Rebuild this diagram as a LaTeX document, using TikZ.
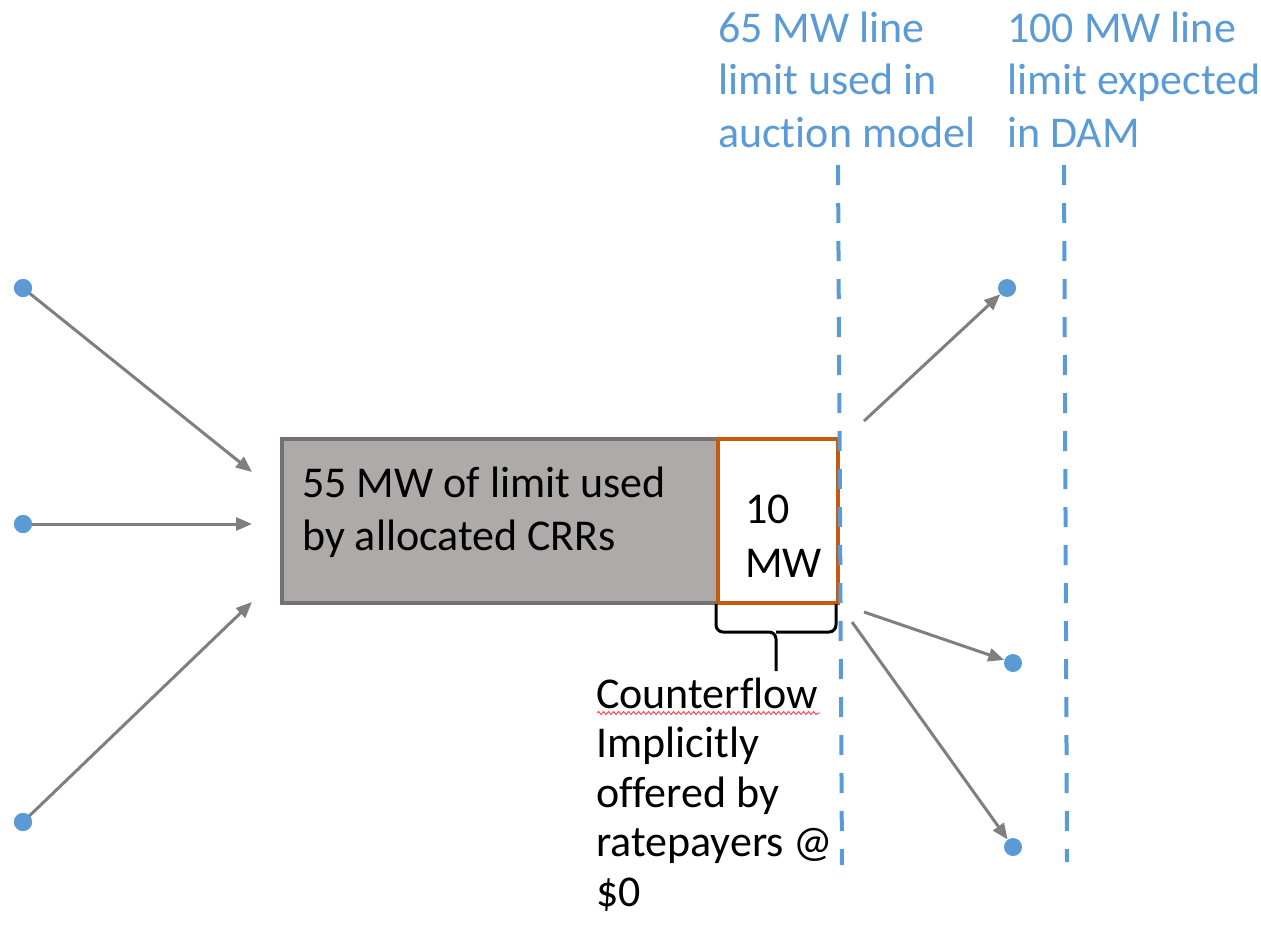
\documentclass[tikz,border=0pt]{standalone}
\usepackage{fontspec}
\setmainfont[Ligatures=NoCommon]{Carlito}
\usetikzlibrary{arrows.meta,decorations.pathmorphing}
\definecolor{dotblue}{HTML}{5B9BD5}
\definecolor{arrowgray}{HTML}{7F7F7F}
\definecolor{boxfill}{HTML}{AEAAAA}
\definecolor{boxedge}{HTML}{767171}
\definecolor{rimorange}{HTML}{C55A11}
\tikzset{
  dot/.style={circle,fill=dotblue,draw=none,minimum size=18pt,inner sep=0pt},
  flow/.style={draw=arrowgray,line width=3pt,-{Triangle[length=16pt,width=13pt]}},
  limitline/.style={draw=dotblue,line width=4pt,dash pattern=on 20pt off 18pt},
  % multi-line labels are placed by the baseline of their last line
  lbl/.style={anchor=base west,inner sep=0pt,align=left,font=\fontsize{44}{52.5}\selectfont},
  bluelbl/.style={lbl,text=dotblue},
}
\begin{document}
\begin{tikzpicture}[x=1pt,y=-1pt]
\useasboundingbox (0,0) rectangle (1261,924);

% constraint limits
\coordinate (d1t) at (838,165);
\coordinate (d1b) at (842,865);
\coordinate (d2t) at (1064,165);
\coordinate (d2b) at (1067,862);

% used capacity blocks
\node[draw=boxedge,fill=boxfill,line width=4pt,minimum width=436pt,minimum height=164pt,inner sep=0pt,anchor=north west] (crr) at (280,437) {};
\node[draw=rimorange,fill=white,line width=4pt,minimum width=120pt,minimum height=164pt,inner sep=0pt,anchor=north west] (cf) at (716,437) {};

\draw[limitline] (d1t) -- (d1b);
\draw[limitline] (d2t) -- (d2b);

\node[lbl] (crrtxt) at (302,550) {55 MW of limit used\\by allocated CRRs};
\node[lbl,font=\fontsize{44}{54}\selectfont] (cftxt) at (745,577) {10\\MW};

\node[bluelbl] (lim65) at (718,147) {65 MW line\\limit used in\\auction model};
\node[bluelbl] (lim100) at (1007,147) {100 MW line\\limit expected\\in DAM};

% brace under the counterflow block
\draw[line width=3pt,rounded corners=7pt] (716,604) -- (716,632) -- (776,632) -- (776,671);
\draw[line width=3pt,rounded corners=7pt] (836,604) -- (836,632) -- (776,632);

\node[lbl,font=\fontsize{44}{49.5}\selectfont] (note) at (596,906) {Counterflow\\Implicitly\\offered by\\ratepayers @\\\$0};
\draw[red!70,line width=1pt,decorate,decoration={snake,amplitude=1.5pt,segment length=5pt}] (597,713) -- (820,713);

% injections on the left
\coordinate (a1) at (252,472);
\coordinate (a2) at (252,524);
\coordinate (a3) at (252,602);
\node[dot] (l1) at (23,288) {};
\node[dot] (l2) at (23,524) {};
\node[dot] (l3) at (23,822) {};
\draw[flow] (l1.center) -- (a1);
\draw[flow] (l2.center) -- (a2);
\draw[flow] (l3.center) -- (a3);
\node[dot] at (l1) {};
\node[dot] at (l2) {};
\node[dot] at (l3) {};

% withdrawals on the right
\node[dot] (r1) at (1007,288) {};
\node[dot] (r2) at (1013,663) {};
\node[dot] (r3) at (1013,847) {};
\coordinate (s1) at (864,421);
\coordinate (s2) at (864,612);
\coordinate (s3) at (852,622);
\draw[flow] (s1) -- (r1);
\draw[flow] (s2) -- (r2);
\draw[flow] (s3) -- (r3);
\end{tikzpicture}
\end{document}
